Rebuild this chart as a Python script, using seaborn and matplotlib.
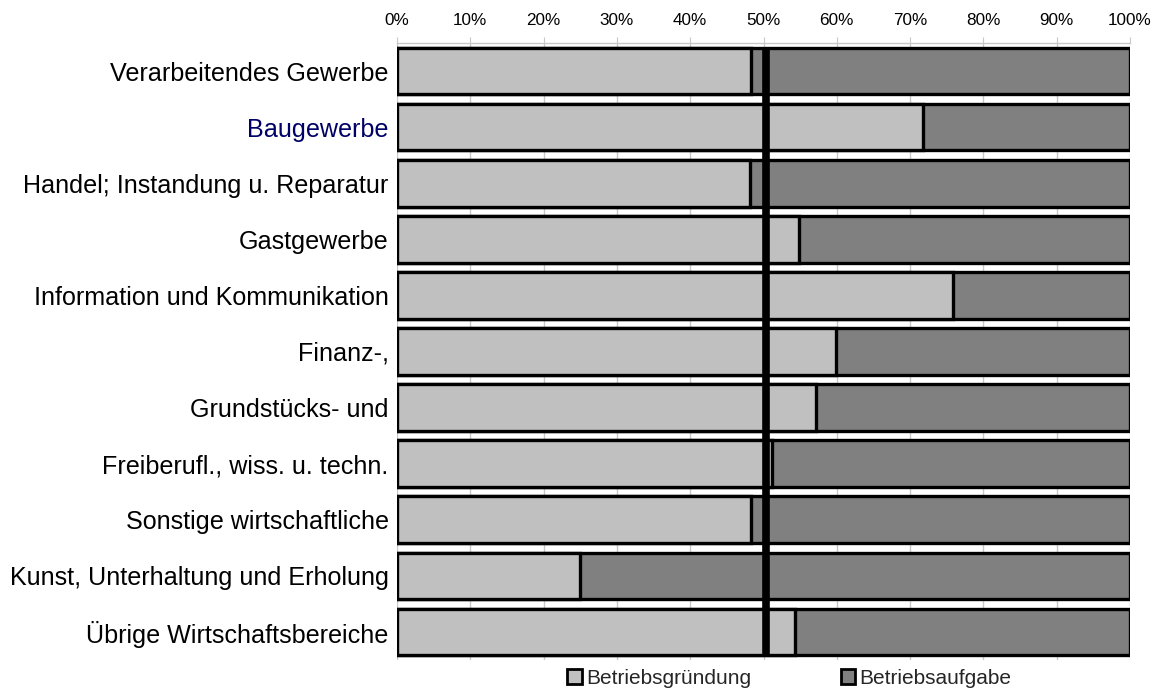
import matplotlib
matplotlib.use("Agg")
import matplotlib.pyplot as plt
import seaborn as sns
import pandas as pd
from matplotlib.patches import Patch

categories = [
    "Verarbeitendes Gewerbe",
    "Baugewerbe",
    "Handel; Instandung u. Reparatur",
    "Gastgewerbe",
    "Information und Kommunikation",
    "Finanz-,",
    "Grundstücks- und",
    "Freiberufl., wiss. u. techn.",
    "Sonstige wirtschaftliche",
    "Kunst, Unterhaltung und Erholung",
    "Übrige Wirtschaftsbereiche",
]
gruendung = [48.3, 71.8, 48.2, 54.9, 75.8, 59.9, 57.2, 51.2, 48.3, 25.0, 54.3]
aufgabe = [100 - g for g in gruendung]
ref_line = 50.3
tick_values = list(range(0, 101, 10))
tick_labels = [f"{t}%" for t in tick_values]
series_names = ["Betriebsgründung", "Betriebsaufgabe"]

LIGHT = "#c0c0c0"
DARK = "#808080"

df = pd.DataFrame({"cat": categories, "gr": gruendung, "auf": aufgabe})
df["total"] = df["gr"] + df["auf"]

sns.set_style("white")
plt.rcParams["font.family"] = ["Liberation Sans", "DejaVu Sans"]

fig = plt.figure(figsize=(11.54, 6.93), dpi=100)
ax = fig.add_axes([397 / 1154, 1 - 660 / 693, 733 / 1154, 617 / 693])

sns.barplot(data=df, x="total", y="cat", color=DARK, saturation=1, orient="h",
            width=0.83, edgecolor="black", linewidth=2.4, ax=ax, zorder=2)
sns.barplot(data=df, x="gr", y="cat", color=LIGHT, saturation=1, orient="h",
            width=0.83, edgecolor="black", linewidth=2.4, ax=ax, zorder=3)

ax.vlines(ref_line, -0.5 + 0.085, len(categories) - 0.5 - 0.085, color="black",
          linewidth=5.5, zorder=5)

ax.set_xlim(0, 100)
ax.set_ylim(len(categories) - 0.5, -0.5)
ax.set_xlabel("")
ax.set_ylabel("")
ax.set_xticks(tick_values)
ax.set_xticklabels(tick_labels)
ax.xaxis.tick_top()
ax.tick_params(axis="x", which="both", top=True, bottom=False, length=4,
               color="#c8c8c8", labelsize=12.3, pad=7, labelcolor="black")
ax.tick_params(axis="y", length=0, pad=6, labelsize=18.1, labelcolor="black")
for lbl in ax.get_yticklabels():
    if lbl.get_text() == "Baugewerbe":
        lbl.set_color("#000066")

ax.grid(axis="x", color="#c8c8c8", linewidth=1, zorder=0)
ax.set_axisbelow(True)
for side in ["left", "right", "bottom"]:
    ax.spines[side].set_visible(False)
ax.spines["top"].set_color("#c8c8c8")
ax.spines["top"].set_linewidth(1)

handles = [Patch(facecolor=LIGHT, edgecolor="black", linewidth=2, label=series_names[0]),
           Patch(facecolor=DARK, edgecolor="black", linewidth=2, label=series_names[1])]
fig.legend(handles=handles, loc="center", bbox_to_anchor=(789.5 / 1154, 1 - 678 / 693),
           ncol=2, frameon=False, fontsize=15, handlelength=0.7, handleheight=0.7,
           handletextpad=0.2, columnspacing=4.3, borderaxespad=0, borderpad=0)

fig.savefig("out.png", dpi=100)
